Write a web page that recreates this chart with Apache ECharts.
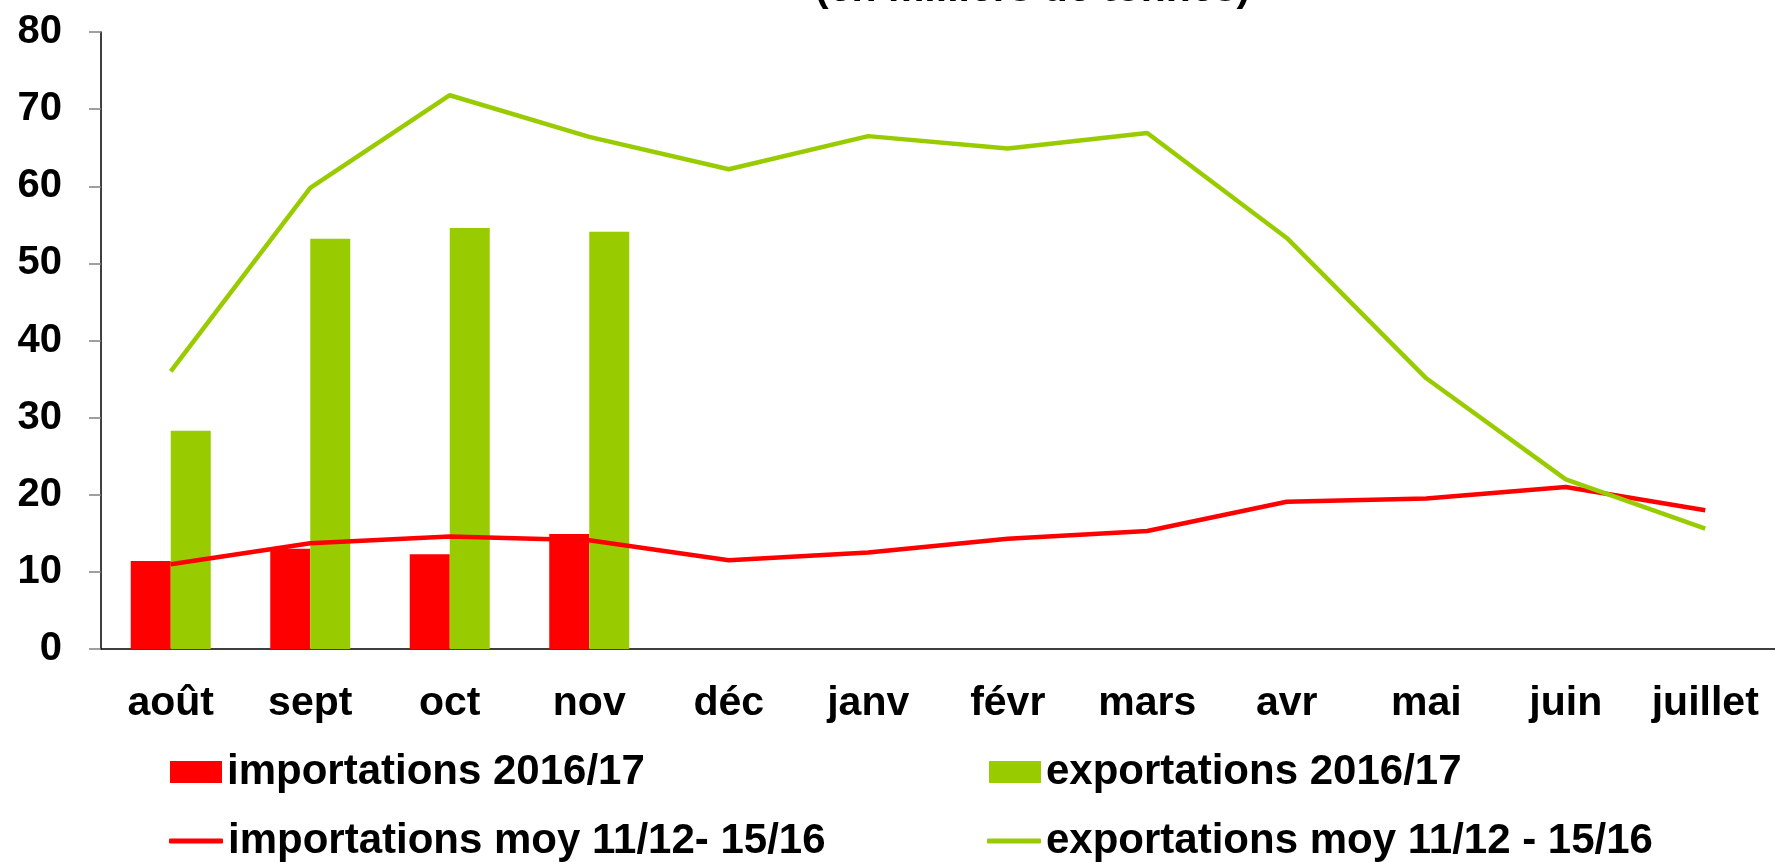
<!DOCTYPE html>
<html>
<head>
<meta charset="utf-8">
<title>importations / exportations</title>
<script src="https://cdn.jsdelivr.net/npm/echarts@6/dist/echarts.min.js"></script>
<style>
    html, body {margin: 0; padding: 0; background: #fff;}
    #box {width: 1775px; height: 862px;}
</style>
</head>
<body>
<div id="box"></div>
<script>
const months = ["août", "sept", "oct", "nov", "déc", "janv", "févr", "mars", "avr", "mai", "juin", "juillet"]
const yTicks = [0, 10, 20, 30, 40, 50, 60, 70, 80]

const importBars = [11.4, 13.0, 12.3, 14.9, null, null, null, null, null, null, null, null]
const exportBars = [28.3, 53.2, 54.6, 54.1, null, null, null, null, null, null, null, null]
const importAvg = [11.0, 13.7, 14.6, 14.1, 11.5, 12.5, 14.3, 15.3, 19.1, 19.5, 21.0, 18.0]
const exportAvg = [36.0, 59.8, 71.8, 66.4, 62.2, 66.5, 64.9, 66.9, 53.3, 35.1, 22.0, 15.6]

const names = ["importations 2016/17", "exportations 2016/17", "importations moy 11/12- 15/16", "exportations moy 11/12 - 15/16"]

const RED = "#ff0000"
const GREEN = "#99cc00"
const FONT = "'Liberation Sans', Arial, sans-serif"

const myChart = echarts.init(document.getElementById("box"))

// une légende par entrée pour garder les deux colonnes
const legendItem = (name, left, top, isLine) => ({
    data: [name],
    left, top,
    padding: 0,
    icon: isLine ? "roundRect" : "rect",
    itemWidth: isLine ? 54 : 52,
    itemHeight: isLine ? 5 : 22,
    selectedMode: false,
    textStyle: {fontFamily: FONT, fontWeight: "bold", fontSize: 42, color: "#000"}
})

myChart.setOption({
    animation: false,
    title: {
        text: "(en milliers de tonnes)",
        left: 815, top: -31, padding: 0,
        textStyle: {fontFamily: FONT, fontWeight: "bold", fontSize: 41, color: "#000"}
    },
    grid: {left: 101, right: -11, top: 32, bottom: 213, containLabel: false},
    legend: [
        legendItem(names[0], 170, 751, false),
        legendItem(names[1], 989, 751, false),
        legendItem(names[2], 169, 820, true),
        legendItem(names[3], 987, 820, true)
    ],
    xAxis: {
        type: "category",
        data: months,
        axisLine: {lineStyle: {color: "#000", width: 1.5}},
        axisTick: {length: 12, lineStyle: {color: "#808080", width: 1.5}},
        axisLabel: {margin: 34, fontFamily: FONT, fontWeight: "bold", fontSize: 41, color: "#000"}
    },
    yAxis: {
        type: "value",
        min: yTicks[0], max: yTicks[yTicks.length - 1], interval: 10,
        splitLine: {show: false},
        axisLine: {show: true, lineStyle: {color: "#000", width: 1.5}},
        axisTick: {show: true, length: 12, lineStyle: {color: "#808080", width: 1.5}},
        axisLabel: {margin: 39, fontFamily: FONT, fontWeight: "bold", fontSize: 40, color: "#000"}
    },
    series: [
        {name: names[0], type: "bar", data: importBars, barWidth: 40, barGap: "0%", itemStyle: {color: RED}},
        {name: names[1], type: "bar", data: exportBars, barWidth: 40, barGap: "0%", itemStyle: {color: GREEN}},
        {name: names[2], type: "line", data: importAvg, showSymbol: false, symbol: "none", z: 5,
            itemStyle: {color: RED}, lineStyle: {color: RED, width: 4.5}},
        {name: names[3], type: "line", data: exportAvg, showSymbol: false, symbol: "none", z: 5,
            itemStyle: {color: GREEN}, lineStyle: {color: GREEN, width: 4.5}}
    ]
})
</script>
</body>
</html>
